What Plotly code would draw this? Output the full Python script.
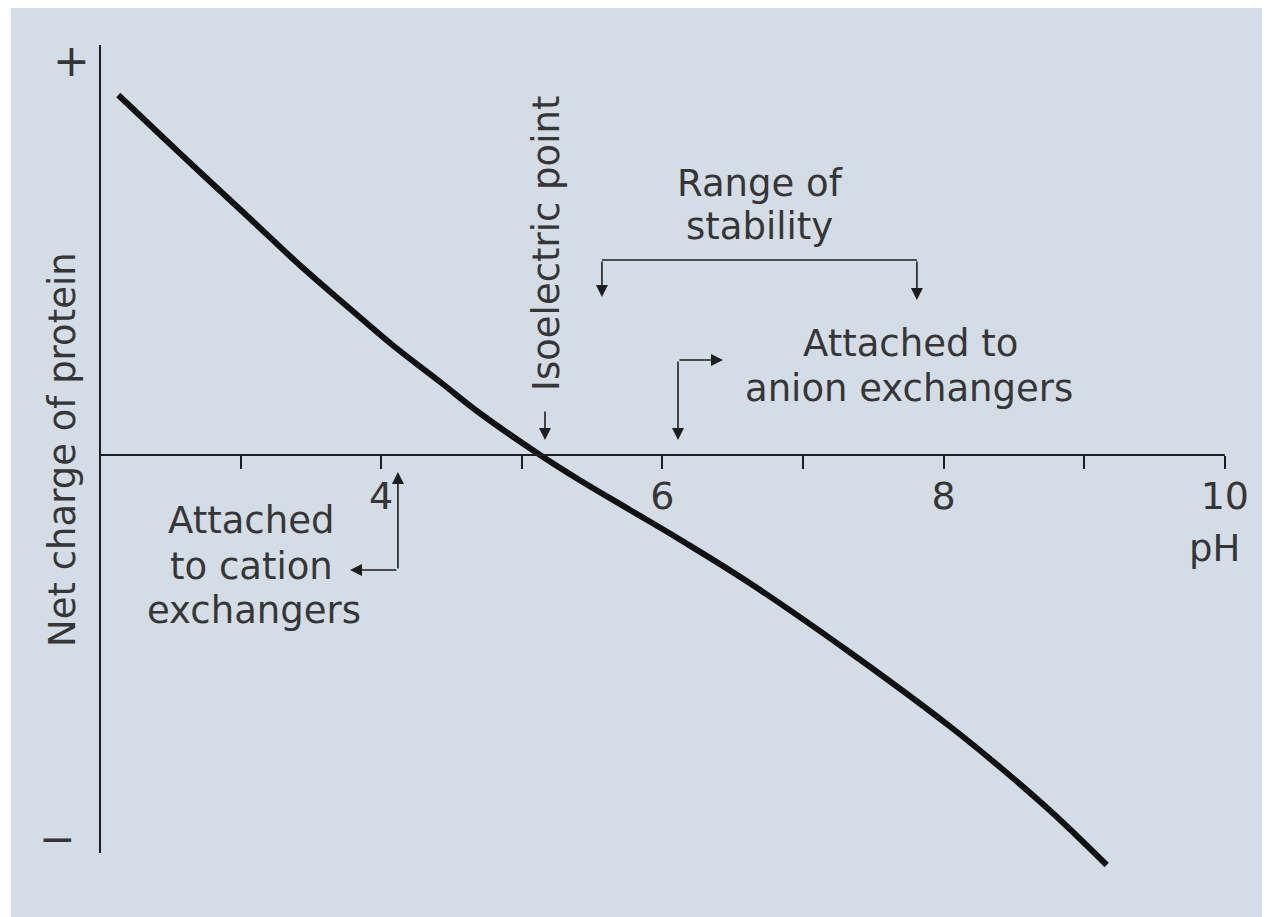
import plotly.graph_objects as go

# ---- data ----
ph = [2.13, 2.43, 2.71, 3.07, 3.42, 3.78, 4.08, 4.42, 4.70, 5.13, 5.41, 5.77, 6.13, 6.62,
      7.33, 8.05, 8.40, 8.76, 9.16]
charge = [3.60, 3.20, 2.83, 2.36, 1.90, 1.46, 1.10, 0.73, 0.42, 0.00, -0.25, -0.55, -0.85,
          -1.28, -1.97, -2.72, -3.12, -3.56, -4.10]
tick_vals = [3, 4, 5, 6, 7, 8, 9, 10]
tick_text = ["", "4", "", "6", "", "8", "", "10"]

# ---- layout constants ----
# the page body adds an 8px margin, so the figure is sized to fill the rest of the window
W, H = 1262, 909
PX_PER_PH = 140.6
X0_PX = 92           # pixel (in figure) of pH 2
Y0_PX = 447          # pixel (in figure) of zero charge
PX_PER_UNIT = 100.0
x_lo = 2 - X0_PX / PX_PER_PH
x_hi = 2 + (W - X0_PX) / PX_PER_PH
y_hi = Y0_PX / PX_PER_UNIT
y_lo = (Y0_PX - H) / PX_PER_UNIT

BG = "#d4dde6"
INK = "#1e1e1e"
TXT = "#363636"
FONT = "DejaVu Sans"
FS = 37

fig = go.Figure()
fig.add_trace(go.Scatter(x=ph, y=charge, mode="lines",
                         line=dict(color="#111111", width=6, shape="spline", smoothing=1.1),
                         hoverinfo="skip", showlegend=False))

shapes = [
    # x axis line
    dict(type="line", xref="x", yref="y", x0=2, x1=10, y0=0, y1=0,
         line=dict(color=INK, width=2)),
    # y axis line
    dict(type="line", xref="x", yref="y", x0=2, x1=2, y0=4.10, y1=-3.98,
         line=dict(color=INK, width=2)),
    # range of stability bracket
    dict(type="line", xref="x", yref="y", x0=5.57, x1=7.81, y0=1.95, y1=1.95,
         line=dict(color=INK, width=1.6)),
    # thin white scan border on the left
    dict(type="rect", xref="paper", yref="paper", x0=0, x1=3 / W, y0=0, y1=1,
         fillcolor="white", line=dict(width=0), layer="below"),
]

def txt(x, y, s, size=FS, angle=0):
    return dict(x=x, y=y, xref="x", yref="y", text=s, showarrow=False,
                textangle=angle, font=dict(family=FONT, size=size, color=TXT),
                xanchor="center", yanchor="middle")

def arrow(x_tail, y_tail, x_tip, y_tip):
    return dict(x=x_tip, y=y_tip, ax=x_tail, ay=y_tail, xref="x", yref="y",
                axref="x", ayref="y", text="", showarrow=True, arrowhead=2,
                arrowsize=1.5, arrowwidth=1.6, arrowcolor=INK, standoff=0, startstandoff=0)

annotations = [
    txt(1.80, 3.95, "+", size=44),
    txt(1.70, -3.83, "\u2212", size=44),
    txt(1.73, 0.05, "Net charge of protein", size=37, angle=-90),
    txt(5.172, 2.12, "Isoelectric point", size=37, angle=-90),
    txt(6.694, 2.72, "Range of"),
    txt(6.694, 2.29, "stability"),
    txt(7.768, 1.12, "Attached to"),
    txt(7.754, 0.67, "anion exchangers"),
    txt(3.074, -0.65, "Attached"),
    txt(3.081, -1.11, "to cation"),
    txt(3.095, -1.55, "exchangers"),
    txt(9.93, -0.93, "pH"),
    # isoelectric arrow
    arrow(5.165, 0.45, 5.165, 0.15),
    # stability bracket arrows
    arrow(5.57, 1.95, 5.57, 1.58),
    arrow(7.81, 1.95, 7.81, 1.55),
    # anion elbow
    arrow(6.111, 0.95, 6.111, 0.15),
    arrow(6.111, 0.95, 6.431, 0.95),
    # cation elbow
    arrow(4.119, -1.15, 4.119, -0.17),
    arrow(4.119, -1.15, 3.778, -1.15),
]

fig.update_layout(
    width=W, height=H, margin=dict(l=0, r=0, t=0, b=0), autosize=False,
    paper_bgcolor=BG, plot_bgcolor=BG,
    shapes=shapes, annotations=annotations, showlegend=False,
    xaxis=dict(domain=[0, 1], range=[x_lo, x_hi], anchor="free",
               position=(H - Y0_PX) / H, showline=False, showgrid=False, zeroline=False,
               tickmode="array", tickvals=tick_vals, ticktext=tick_text,
               ticks="outside", ticklen=13, tickwidth=2, tickcolor=INK,
               ticklabelstandoff=-6,
               tickfont=dict(family=FONT, size=38, color=TXT), fixedrange=True),
    yaxis=dict(domain=[0, 1], range=[y_lo, y_hi], visible=False, fixedrange=True),
)

fig.write_html("out.html")
